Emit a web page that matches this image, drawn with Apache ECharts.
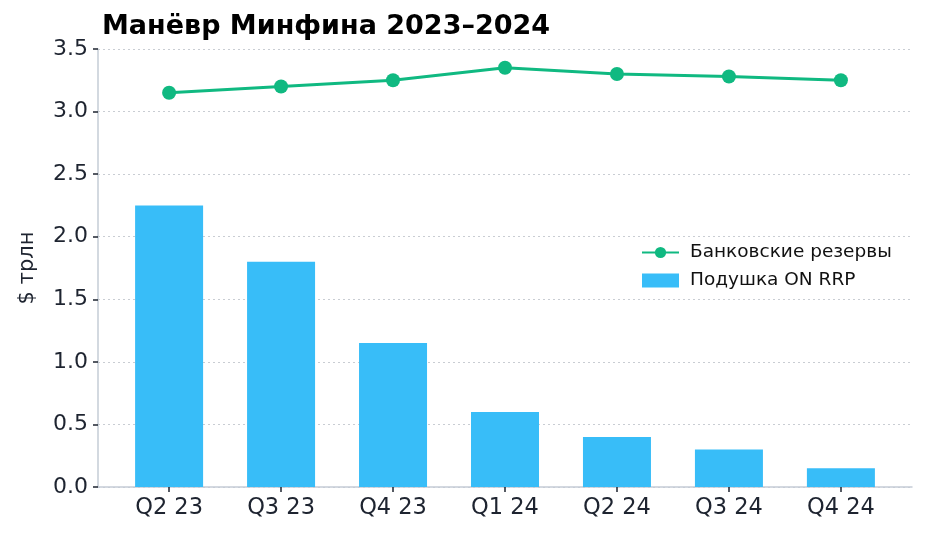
<!DOCTYPE html>
<html>
<head>
<meta charset="utf-8">
<script src="https://cdn.jsdelivr.net/npm/echarts@6/dist/echarts.min.js"></script>
<style>
  html, body { margin: 0; padding: 0; background: #fff; }
  #chart { width: 927px; height: 539px; }
</style>
</head>
<body>
<div id="chart"></div>
<script>
// квартальные данные, $ трлн
var quarters = ['Q2 23', 'Q3 23', 'Q4 23', 'Q1 24', 'Q2 24', 'Q3 24', 'Q4 24'];
var reserves = [3.15, 3.20, 3.25, 3.35, 3.30, 3.28, 3.25];
var rrp = [2.25, 1.80, 1.15, 0.60, 0.40, 0.30, 0.15];

var font = 'DejaVu Sans';
var ink = '#1e2430';

var chart = echarts.init(document.getElementById('chart'));
chart.setOption({
  animation: false,
  title: {
    text: 'Манёвр Минфина 2023–2024',
    left: 97,
    top: 8,
    textStyle: { fontFamily: font, fontWeight: 'bold', fontSize: 27, color: '#000' }
  },
  legend: {
    orient: 'vertical',
    left: 636,
    top: 238,
    itemWidth: 37,
    itemHeight: 14,
    itemGap: 9,
    textStyle: { fontFamily: font, fontSize: 18.5, color: '#111', padding: [0, 0, 0, 6] },
    data: [
      { name: 'Банковские резервы' },
      { name: 'Подушка ON RRP', icon: 'rect' }
    ]
  },
  grid: { left: 98, right: 15, top: 49, bottom: 52 },
  xAxis: {
    type: 'value',
    min: -0.635,
    max: quarters.length - 1 + 0.635,
    splitLine: { show: false },
    axisLine: { show: true, onZero: false, lineStyle: { color: '#c5ccd6', width: 1.5 } },
    axisTick: {
      show: true, length: 5, lineStyle: { color: ink, width: 1.5 },
      customValues: quarters.map(function (q, i) { return i; })
    },
    axisLabel: {
      fontFamily: font, fontSize: 22.5, color: ink, margin: 10,
      customValues: quarters.map(function (q, i) { return i; }),
      formatter: function (v) { return quarters[Math.round(v)]; }
    }
  },
  yAxis: {
    type: 'value',
    min: 0,
    max: 3.5,
    interval: 0.5,
    name: '$ трлн',
    nameLocation: 'middle',
    nameGap: 60,
    nameTextStyle: { fontFamily: font, fontSize: 21, color: ink },
    axisLine: { show: true, onZero: false, lineStyle: { color: '#c5ccd6', width: 1.5 } },
    axisTick: { show: true, length: 5, lineStyle: { color: ink, width: 1.5 } },
    axisLabel: {
      fontFamily: font, fontSize: 22, color: ink, margin: 10,
      formatter: function (v) { return v.toFixed(1); }
    },
    splitLine: { show: true, lineStyle: { color: '#c9cdd3', type: [2, 3], width: 1 } }
  },
  series: [
    {
      name: 'Подушка ON RRP',
      type: 'bar',
      barWidth: 68,
      itemStyle: { color: '#38bdf8' },
      data: rrp.map(function (v, i) { return [i, v]; })
    },
    {
      name: 'Банковские резервы',
      type: 'line',
      symbol: 'circle',
      symbolSize: 14,
      lineStyle: { color: '#10b981', width: 3 },
      itemStyle: { color: '#10b981' },
      data: reserves.map(function (v, i) { return [i, v]; })
    }
  ]
});
</script>
</body>
</html>
